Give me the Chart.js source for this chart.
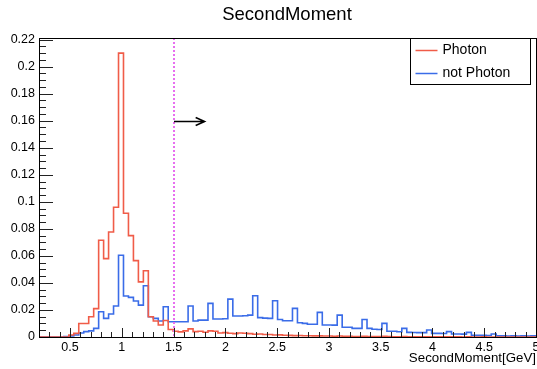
<!DOCTYPE html>
<html>
<head>
<meta charset="utf-8">
<script src="https://cdn.jsdelivr.net/npm/chart.js@4.4.1/dist/chart.umd.min.js"></script>
<style>
  html, body { margin: 0; padding: 0; background: #fff; }
  #wrap { width: 537px; height: 369px; }
</style>
</head>
<body>
<div id="wrap"><canvas id="c" width="537" height="369"></canvas></div>
<script>
// histogram binning: 100 bins from 0.2 to 5
const histMin = 0.2;
const histMax = 5;
const nBins = 100;
const yMax = 0.2212;

const seriesNames = ['Photon', 'not Photon'];
const seriesColors = ['rgb(240,92,72)', 'rgb(58,108,232)'];

const photon = [
  0, 0, 0, 0, 0, 0, 0.0015, 0.0027, 0.010, 0.010,
  0.015, 0.021, 0.0716, 0.058, 0.0777, 0.096, 0.210, 0.0915, 0.075, 0.0565,
  0.0408, 0.049, 0.015, 0.0118, 0.0089, 0.0122, 0.0055, 0.0042, 0.0038, 0.0045,
  0.006, 0.004, 0.0042, 0.0035, 0.0045, 0.0042, 0.003, 0.0032, 0.0028, 0.0025,
  0.003, 0.0028, 0.0025, 0.002, 0.0022, 0.0018, 0.0018, 0.0015, 0.0016, 0.0013,
  0.0012, 0.001, 0.0011, 0.0009, 0.0009, 0.0008, 0.0008, 0.0007, 0.0007, 0.0006,
  0.0007, 0.0005, 0.0005, 0.0004, 0.0004, 0.0006, 0.0004, 0.0003, 0.0003, 0.0005,
  0.0003, 0.0002, 0.0002, 0.0003, 0.0002, 0.0001, 0.0001, 0.0002, 0.0001, 0.0001,
  0.0001, 0.0001, 0.0001, 0.0001, 0.0001, 0, 0.0001, 0, 0, 0.0001,
  0, 0, 0, 0, 0, 0, 0, 0, 0, 0
];

const notPhoton = [
  0, 0, 0, 0, 0, 0.0003, 0.0008, 0.0015, 0.003, 0.004,
  0.0045, 0.0064, 0.0187, 0.0138, 0.017, 0.0229, 0.0605, 0.0303, 0.0293, 0.0266,
  0.0236, 0.0379, 0.015, 0.0138, 0.0118, 0.0224, 0.0113, 0.0113, 0.0113, 0.0113,
  0.0229, 0.0118, 0.0125, 0.0125, 0.0249, 0.0133, 0.0133, 0.0135, 0.028, 0.0155,
  0.0155, 0.0157, 0.0162, 0.0305, 0.0143, 0.014, 0.0138, 0.0268, 0.013, 0.012,
  0.012, 0.0212, 0.0105, 0.0101, 0.0094, 0.0094, 0.0182, 0.0089, 0.0089, 0.0088,
  0.0162, 0.0072, 0.0072, 0.0064, 0.0064, 0.013, 0.0064, 0.0057, 0.0055, 0.0101,
  0.0042, 0.0042, 0.0039, 0.0064, 0.0034, 0.0033, 0.0032, 0.0032, 0.0052, 0.0027,
  0.0027, 0.0026, 0.004, 0.0022, 0.0022, 0.0021, 0.0034, 0.0013, 0.0012, 0.0012,
  0.0011, 0.0022, 0.0008, 0.0008, 0.0007, 0.0008, 0.0007, 0.0008, 0.0007, 0.0008
];

const xTicks = [0.5, 1, 1.5, 2, 2.5, 3, 3.5, 4, 4.5, 5];
const yTicks = [0, 0.02, 0.04, 0.06, 0.08, 0.1, 0.12, 0.14, 0.16, 0.18, 0.2, 0.22];

// selection cut drawn as dotted line + arrow
const cutValue = 1.5;
const arrowLevel = 0.16;
const arrowEnd = 1.8;

const FONT = '"Liberation Sans", Arial, Helvetica, sans-serif';

// left bin edges plus closing point, drawn with stepped lines
function histPoints(values) {
  const w = (histMax - histMin) / nBins;
  const pts = values.map((v, i) => ({ x: histMin + i * w, y: v }));
  pts.push({ x: histMax, y: values[values.length - 1] });
  return pts;
}

const rootDecor = {
  id: 'rootDecor',
  afterDatasetsDraw(chart) {
    const { ctx, chartArea: a, scales: { x, y } } = chart;
    ctx.save();

    // cut line
    const cx = Math.round(x.getPixelForValue(cutValue));
    ctx.strokeStyle = 'rgb(232,110,240)';
    ctx.lineWidth = 2;
    ctx.setLineDash([2, 2]);
    ctx.beginPath();
    ctx.moveTo(cx, a.top);
    ctx.lineTo(cx, a.bottom);
    ctx.stroke();
    ctx.setLineDash([]);

    // arrow
    const ay = Math.round(y.getPixelForValue(arrowLevel)) + 0.5;
    const ax = x.getPixelForValue(arrowEnd);
    ctx.strokeStyle = '#000';
    ctx.lineWidth = 1.5;
    ctx.beginPath();
    ctx.moveTo(cx, ay);
    ctx.lineTo(ax, ay);
    ctx.moveTo(ax - 9, ay - 4);
    ctx.lineTo(ax, ay);
    ctx.lineTo(ax - 9, ay + 4);
    ctx.stroke();

    // inward ticks
    ctx.strokeStyle = '#222';
    ctx.lineWidth = 1;
    ctx.beginPath();
    for (let v = histMin; v <= histMax + 1e-6; v += 0.1) {
      const px = Math.round(x.getPixelForValue(v)) + 0.5;
      const major = xTicks.some(t => Math.abs(t - v) < 1e-6);
      ctx.moveTo(px, a.bottom);
      ctx.lineTo(px, a.bottom - (major ? 9 : 5));
    }
    for (let v = 0; v <= 0.22 + 1e-6; v += 0.005) {
      const py = Math.round(y.getPixelForValue(v)) + 0.5;
      const major = yTicks.some(t => Math.abs(t - v) < 1e-6);
      ctx.moveTo(a.left, py);
      ctx.lineTo(a.left + (major ? 14 : 7), py);
    }
    ctx.stroke();

    // frame
    ctx.strokeStyle = '#000';
    ctx.strokeRect(a.left + 0.5, a.top + 0.5, a.right - a.left, a.bottom - a.top);

    // legend box
    const lx = 410.5, ly = a.top + 0.5, lw = 120, lh = 46;
    ctx.fillStyle = '#fff';
    ctx.fillRect(lx, ly, lw, lh);
    ctx.strokeRect(lx, ly, lw, lh);
    ctx.font = '14px ' + FONT;
    ctx.textBaseline = 'middle';
    ctx.textAlign = 'left';
    chart.data.datasets.forEach((ds, i) => {
      const ry = ly + 12 + i * 23;
      ctx.strokeStyle = ds.borderColor;
      ctx.lineWidth = 1.5;
      ctx.beginPath();
      ctx.moveTo(lx + 5, ry);
      ctx.lineTo(lx + 27, ry);
      ctx.stroke();
      ctx.fillStyle = '#000';
      ctx.fillText(ds.label, lx + 32, ry);
    });

    // title
    ctx.font = '18.5px ' + FONT;
    ctx.textAlign = 'center';
    ctx.textBaseline = 'alphabetic';
    ctx.fillStyle = '#000';
    ctx.fillText('SecondMoment', 287, 20);

    ctx.restore();
  }
};

new Chart(document.getElementById('c'), {
  type: 'line',
  data: {
    datasets: [
      {
        label: seriesNames[0],
        data: histPoints(photon),
        borderColor: seriesColors[0],
        borderWidth: 1.6,
        stepped: true,
        pointRadius: 0,
        fill: false,
      },
      {
        label: seriesNames[1],
        data: histPoints(notPhoton),
        borderColor: seriesColors[1],
        borderWidth: 1.6,
        stepped: true,
        pointRadius: 0,
        fill: false,
      },
    ],
  },
  options: {
    responsive: false,
    animation: false,
    devicePixelRatio: 1,
    layout: { padding: { top: 38, right: 1, left: 0, bottom: 0 } },
    plugins: {
      legend: { display: false },
      title: { display: false },
      tooltip: { enabled: false },
    },
    scales: {
      x: {
        type: 'linear',
        min: histMin,
        max: histMax,
        afterBuildTicks: axis => { axis.ticks = xTicks.map(v => ({ value: v })); },
        afterFit: axis => {
          axis.height = 32;
          axis.paddingLeft = 0;
          axis.paddingRight = 0;
        },
        grid: { display: false, drawTicks: false },
        border: { display: false },
        ticks: {
          color: '#000',
          padding: 3,
          maxRotation: 0,
          font: { family: FONT, size: 12.5 },
          callback: v => String(+v.toFixed(2)),
        },
        title: {
          display: true,
          text: 'SecondMoment[GeV]',
          align: 'end',
          color: '#000',
          padding: { top: 0, bottom: 3 },
          font: { family: FONT, size: 13.3 },
        },
      },
      y: {
        min: 0,
        max: yMax,
        afterBuildTicks: axis => { axis.ticks = yTicks.map(v => ({ value: v })); },
        afterFit: axis => {
          axis.width = 39;
          axis.paddingTop = 0;
          axis.paddingBottom = 0;
        },
        grid: { display: false, drawTicks: false },
        border: { display: false },
        ticks: {
          color: '#000',
          padding: 4,
          font: { family: FONT, size: 12.5 },
          callback: v => String(+v.toFixed(3)),
        },
      },
    },
  },
  plugins: [rootDecor],
});
</script>
</body>
</html>
